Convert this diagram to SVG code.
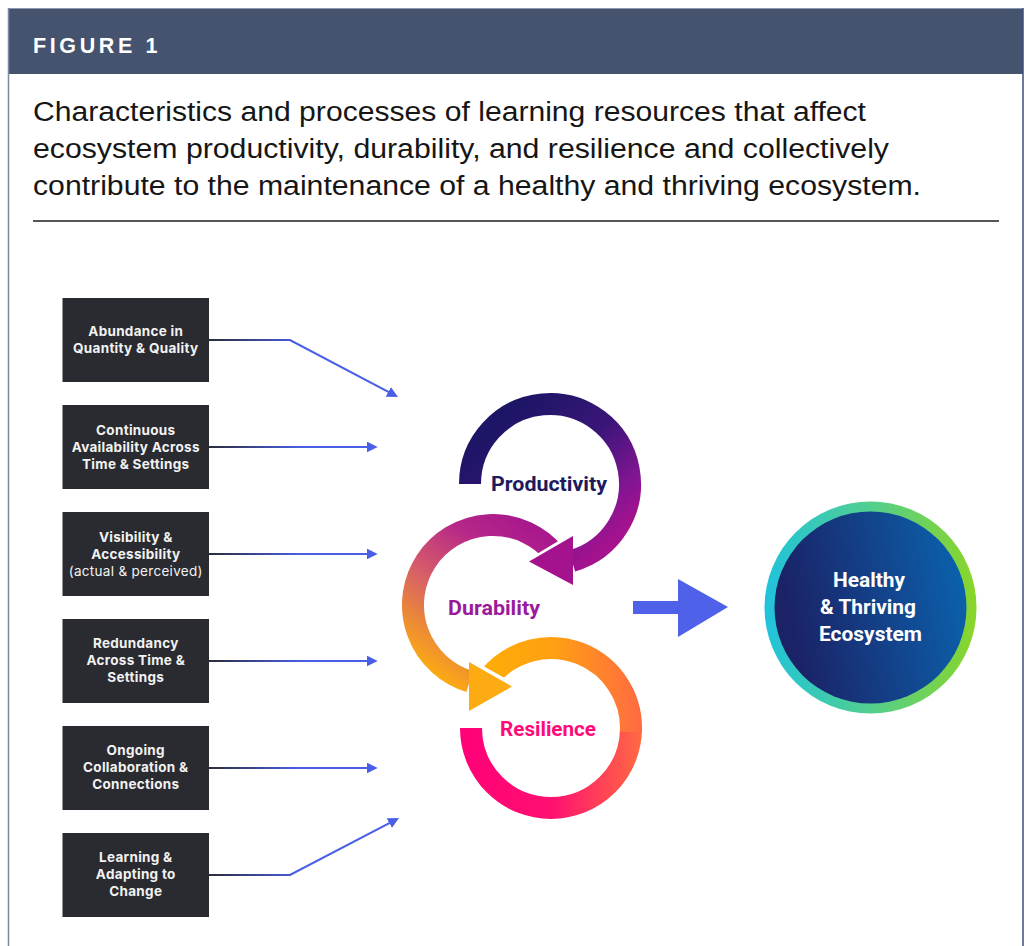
<svg xmlns="http://www.w3.org/2000/svg" width="1026" height="946" viewBox="0 0 1026 946">
<style>
.box{fill:#2a2b30}
.bt{font-family:Inter,"Liberation Sans",sans-serif;font-size:13.5px;font-weight:700;letter-spacing:0.3px;fill:#f2f2f2;text-anchor:middle}
.bt.reg{font-weight:400}
.conn{fill:none;stroke:url(#cg);stroke-width:2.2;marker-end:url(#ah)}
.rt{font-family:Roboto,"Liberation Sans",sans-serif;font-size:20px;font-weight:700;text-anchor:middle}
.title{font-family:"Liberation Sans",Arial,sans-serif;font-size:27px;fill:#161616}
</style>
<defs>
<linearGradient id="cg" gradientUnits="userSpaceOnUse" x1="209" y1="0" x2="300" y2="0">
<stop offset="0" stop-color="#2a2c3c"/><stop offset="1" stop-color="#4a5fe6"/>
</linearGradient>
<marker id="ah" viewBox="0 0 10 10" refX="3" refY="5" markerWidth="11" markerHeight="11" markerUnits="userSpaceOnUse" orient="auto">
<path d="M0,0 L10,5 L0,10 z" fill="#4a5fe6"/>
</marker>
<linearGradient id="gp" gradientUnits="userSpaceOnUse" x1="480" y1="440" x2="590" y2="560">
<stop offset="0" stop-color="#1d1566"/><stop offset="0.45" stop-color="#3a1578"/><stop offset="0.8" stop-color="#801592"/><stop offset="1" stop-color="#a5128e"/>
</linearGradient>
<linearGradient id="gd" gradientUnits="userSpaceOnUse" x1="565" y1="530" x2="455" y2="690">
<stop offset="0" stop-color="#a3128f"/><stop offset="0.3" stop-color="#b72888"/><stop offset="0.6" stop-color="#d65e68"/><stop offset="1" stop-color="#fcab12"/>
</linearGradient>
<linearGradient id="grA" gradientUnits="userSpaceOnUse" x1="460" y1="0" x2="642" y2="0">
<stop offset="0" stop-color="#ff0078"/><stop offset="0.5" stop-color="#ff1070"/><stop offset="1" stop-color="#ff6a42"/>
</linearGradient>
<linearGradient id="grB" gradientUnits="userSpaceOnUse" x1="642" y1="0" x2="480" y2="0">
<stop offset="0" stop-color="#ff6a42"/><stop offset="0.55" stop-color="#ffa012"/><stop offset="1" stop-color="#fdae06"/>
</linearGradient>
<linearGradient id="gring" x1="0" y1="0" x2="1" y2="0">
<stop offset="0" stop-color="#20c3dc"/><stop offset="0.5" stop-color="#52cf8e"/><stop offset="1" stop-color="#8ad528"/>
</linearGradient>
<linearGradient id="gcore" x1="0" y1="0.2" x2="1" y2="0">
<stop offset="0" stop-color="#1b2266"/><stop offset="1" stop-color="#0a66b2"/>
</linearGradient>
</defs>

<rect width="1026" height="946" fill="#ffffff"/>

<g id="frame">
<rect x="8" y="8" width="1015" height="66" fill="#45536f"/>
<line x1="8" y1="8.5" x2="1023" y2="8.5" stroke="#8e98ad" stroke-width="1"/>
<line x1="8.5" y1="8" x2="8.5" y2="946" stroke="#7d89a3" stroke-width="1.5"/>
<line x1="1023" y1="8" x2="1023" y2="946" stroke="#3e4e78" stroke-width="1.5"/>
<text x="33" y="53" font-family="'Liberation Sans',Arial,sans-serif" font-size="21.5" font-weight="700" letter-spacing="3.6" fill="#ffffff">FIGURE 1</text>
<text class="title" x="33" y="121" textLength="833" lengthAdjust="spacingAndGlyphs">Characteristics and processes of learning resources that affect</text>
<text class="title" x="33" y="158" textLength="856" lengthAdjust="spacingAndGlyphs">ecosystem productivity, durability, and resilience and collectively</text>
<text class="title" x="33" y="195" textLength="888" lengthAdjust="spacingAndGlyphs">contribute to the maintenance of a healthy and thriving ecosystem.</text>
<line x1="33" y1="221" x2="999" y2="221" stroke="#1e1e1e" stroke-width="1.5"/>
</g>

<g id="connectors">
<polyline class="conn" points="209,340 290,340 391.2,393.4"/>
<line class="conn" x1="209" y1="447" x2="370" y2="447"/>
<line class="conn" x1="209" y1="554" x2="370" y2="554"/>
<line class="conn" x1="209" y1="661" x2="370" y2="661"/>
<line class="conn" x1="209" y1="768" x2="370" y2="768"/>
<polyline class="conn" points="209,875 290,875 392.2,821.6"/>
<g id="big-arrow" fill="#4f61e9">
<rect x="633" y="601" width="46" height="13"/>
<polygon points="678,579 678,637 728,607"/>
</g>
</g>

<g id="box1"><rect class="box" x="62.5" y="298" width="146.5" height="84"/>
<text class="bt" x="135.75" y="336">Abundance in</text><text class="bt" x="135.75" y="353">Quantity &amp; Quality</text></g>
<g id="box2"><rect class="box" x="62.5" y="405" width="146.5" height="84"/>
<text class="bt" x="135.75" y="435">Continuous</text><text class="bt" x="135.75" y="452">Availability Across</text><text class="bt" x="135.75" y="469">Time &amp; Settings</text></g>
<g id="box3"><rect class="box" x="62.5" y="512" width="146.5" height="84"/>
<text class="bt" x="135.75" y="542">Visibility &amp;</text><text class="bt" x="135.75" y="559">Accessibility</text><text class="bt reg" x="135.75" y="576">(actual &amp; perceived)</text></g>
<g id="box4"><rect class="box" x="62.5" y="619" width="146.5" height="84"/>
<text class="bt" x="135.75" y="648">Redundancy</text><text class="bt" x="135.75" y="665">Across Time &amp;</text><text class="bt" x="135.75" y="682">Settings</text></g>
<g id="box5"><rect class="box" x="62.5" y="726" width="146.5" height="84"/>
<text class="bt" x="135.75" y="755">Ongoing</text><text class="bt" x="135.75" y="772">Collaboration &amp;</text><text class="bt" x="135.75" y="789">Connections</text></g>
<g id="box6"><rect class="box" x="62.5" y="833" width="146.5" height="84"/>
<text class="bt" x="135.75" y="862">Learning &amp;</text><text class="bt" x="135.75" y="879">Adapting to</text><text class="bt" x="135.75" y="896">Change</text></g>

<g id="resilience">
<path d="M471,728 A80,80 0 0 0 631,728" fill="none" stroke="url(#grA)" stroke-width="22"/>
<path d="M630.89,732.19 A80,80 0 0 0 489.72,676.58" fill="none" stroke="url(#grB)" stroke-width="22"/>
<text class="rt" x="548" y="736" fill="#ff0a78" textLength="96" lengthAdjust="spacingAndGlyphs">Resilience</text>
</g>
<line x1="461" y1="657.5" x2="515" y2="687.7" stroke="#ffffff" stroke-width="7"/>
<g id="durability">
<path d="M554.28,553.58 A80,80 0 1 0 469.61,681.5" fill="none" stroke="url(#gd)" stroke-width="22"/>
<polygon points="469,662 469,711 512,686.5" fill="#fcab12"/>
<text class="rt" x="494" y="615" fill="#9b1a9b" textLength="92" lengthAdjust="spacingAndGlyphs">Durability</text>
</g>
<line x1="580" y1="532" x2="527" y2="564" stroke="#ffffff" stroke-width="7"/>
<g id="productivity">
<path d="M470,484 A80,80 0 1 1 572.05,560.9" fill="none" stroke="url(#gp)" stroke-width="22"/>
<polygon points="573,536 573,585 529,561.5" fill="#a5128e"/>
<text class="rt" x="549" y="491" fill="#1e1a5e" textLength="116" lengthAdjust="spacingAndGlyphs">Productivity</text>
</g>

<g id="ecosystem">
<circle cx="870.5" cy="607.5" r="106" fill="url(#gring)"/>
<circle cx="870.5" cy="607.5" r="96" fill="url(#gcore)"/>
<text class="rt" x="869" y="587" fill="#ffffff" textLength="72" lengthAdjust="spacingAndGlyphs">Healthy</text>
<text class="rt" x="868" y="614" fill="#ffffff" textLength="96" lengthAdjust="spacingAndGlyphs">&amp; Thriving</text>
<text class="rt" x="870.5" y="641" fill="#ffffff" textLength="103" lengthAdjust="spacingAndGlyphs">Ecosystem</text>
</g>
</svg>
